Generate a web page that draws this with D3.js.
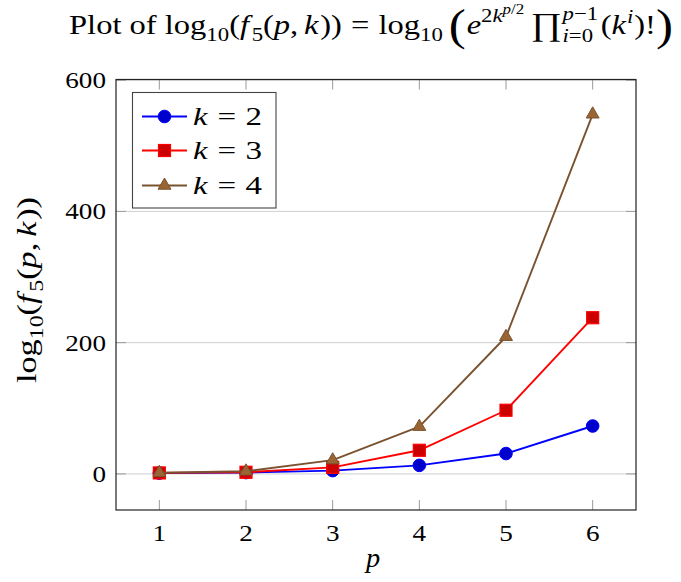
<!DOCTYPE html>
<html><head><meta charset="utf-8">
<script src="https://cdn.jsdelivr.net/npm/d3@7"></script>
<style>html,body{margin:0;padding:0;background:#fff;} svg{display:block;} text{white-space:pre;}</style>
</head><body>
<script>
const pVals = [1, 2, 3, 4, 5, 6];
const seriesK2 = [1.2, 2, 5, 13, 31, 73];
const seriesK3 = [1.5, 2.5, 10, 36, 97, 238];
const seriesK4 = [1.8, 4, 21, 72, 209, 548];
const xTicks = [1, 2, 3, 4, 5, 6];
const yTicks = [0, 200, 400, 600];
const legendLabels = ["2", "3", "4"];

const W = 681, H = 582;
const FONT = "'Liberation Serif', 'Times New Roman', serif";
const NB = "\u00A0";
const svg = d3.select("body").append("svg").attr("width", W).attr("height", H);

const x = d3.scaleLinear().domain([0.5, 6.5]).range([116, 636]);
const y = d3.scaleLinear().domain([-55, 601]).range([510, 79.5]);

// grid
svg.append("g").selectAll("line").data(yTicks).join("line")
  .attr("x1", x.range()[0]).attr("x2", x.range()[1])
  .attr("y1", d => y(d)).attr("y2", d => y(d))
  .attr("stroke", "#cfcfcf").attr("stroke-width", 1);

// ticks (inside, all four sides)
const tl = 10;
const tg = svg.append("g").attr("stroke", "#9a9a9a").attr("stroke-width", 1);
xTicks.forEach(t => {
  tg.append("line").attr("x1", x(t)).attr("x2", x(t)).attr("y1", y.range()[0]).attr("y2", y.range()[0] - tl);
  tg.append("line").attr("x1", x(t)).attr("x2", x(t)).attr("y1", y.range()[1]).attr("y2", y.range()[1] + tl);
});
yTicks.forEach(t => {
  tg.append("line").attr("x1", x.range()[0]).attr("x2", x.range()[0] + tl).attr("y1", y(t)).attr("y2", y(t));
  tg.append("line").attr("x1", x.range()[1]).attr("x2", x.range()[1] - tl).attr("y1", y(t)).attr("y2", y(t));
});

// frame
svg.append("rect").attr("x", x.range()[0]).attr("y", y.range()[1])
  .attr("width", x.range()[1] - x.range()[0]).attr("height", y.range()[0] - y.range()[1])
  .attr("fill", "none").attr("stroke", "#222").attr("stroke-width", 1.2);

function stretchedText(parent, str, px, py, anchor, size, sx) {
  return parent.append("text").text(str)
    .attr("transform", `translate(${px},${py}) scale(${sx},1)`)
    .attr("text-anchor", anchor).attr("font-family", FONT).attr("font-size", size).attr("fill", "#000");
}

// tick labels
xTicks.forEach(t => stretchedText(svg, String(t), x(t), 541, "middle", 23, 1.18));
yTicks.forEach(t => stretchedText(svg, String(t), 106, y(t) + 8, "end", 23, 1.18));

// layout engine for math-like strings
function layout(g, pieces, S) {
  let cx = 0;
  pieces.forEach(p => {
    if (p.stack) {
      let w = 0;
      p.stack.forEach(q => { w = Math.max(w, layoutRow(g, q.parts, S, cx, q.dy)); });
      cx += w + (p.after || 0);
    } else {
      cx += layoutRow(g, [p], S, cx, 0);
    }
  });
  return cx;
}
function layoutRow(g, parts, S, x0, dy0) {
  let cx = x0;
  parts.forEach(p => {
    const size = S * (p.s || 1);
    const t = g.append("text").text(p.t).attr("x", cx).attr("y", (dy0 || 0) + (p.dy || 0) * S)
      .attr("font-family", FONT).attr("font-size", size)
      .attr("font-style", p.it ? "italic" : "normal").attr("fill", "#000");
    cx += t.node().getComputedTextLength() + (p.pad || 0) * S;
  });
  return cx - x0;
}

// title
const S = 28;
const sub = 0.7, subdy = 0.25;
const tinner = svg.append("g");
const titleW = layout(tinner, [
  {t: "Plot" + NB + "of" + NB + "log"}, {t: "10", s: sub, dy: subdy}, {t: "("}, {t: "f", it: 1, pad: 0.08},
  {t: "5", s: sub, dy: subdy}, {t: "("}, {t: "p", it: 1}, {t: "," , pad: 0.18}, {t: "k", it: 1, pad: 0.05}, {t: "))", pad: 0.28},
  {t: "=", pad: 0.28}, {t: "log"}, {t: "10", s: sub, dy: subdy, pad: 0.18}, {t: "(", s: 1.57, dy: 0.23, pad: 0.03},
  {t: "e", it: 1}, {t: "2", s: sub, dy: -0.42}, {t: "k", it: 1, s: sub, dy: -0.42},
  {t: "p", it: 1, s: 0.52, dy: -0.68}, {t: "/2", s: 0.52, dy: -0.68, pad: 0.2},
  {t: "∏", s: 1.15, dy: 0.04, pad: 0.03},
  {stack: [
    {dy: -0.48 * S, parts: [{t: "p", it: 1, s: sub}, {t: "−1", s: sub}]},
    {dy: 0.3 * S, parts: [{t: "i", it: 1, s: sub}, {t: "=0", s: sub}]}
  ], after: 0.08 * S},
  {t: "("}, {t: "k", it: 1, pad: 0.03}, {t: "i", it: 1, s: sub, dy: -0.38, pad: 0.03}, {t: ")!"},
  {t: ")", s: 1.57, dy: 0.23}
], S);
const tx0 = 69, tx1 = 673;
tinner.attr("transform", `translate(${tx0},33.5) scale(${(tx1 - tx0) / titleW},1)`);

// y axis label
const ylin = svg.append("g");
const ylW = layout(ylin, [
  {t: "log"}, {t: "10", s: sub, dy: subdy}, {t: "("}, {t: "f", it: 1, pad: 0.08},
  {t: "5", s: sub, dy: subdy}, {t: "("}, {t: "p", it: 1}, {t: ",", pad: 0.18}, {t: "k", it: 1, pad: 0.05}, {t: "))"}
], 27);
const ylLen = 186;
ylin.attr("transform", `translate(36,${290 + ylLen / 2}) rotate(-90) scale(${ylLen / ylW},1)`);

// x axis label
stretchedText(svg, "p", 373, 567, "middle", 27, 1.05).attr("font-style", "italic");

// series
const series = [
  {vals: seriesK2, stroke: "#0000ff", fill: "#0000cc", mark: "circle"},
  {vals: seriesK3, stroke: "#ff0000", fill: "#cc0000", mark: "square"},
  {vals: seriesK4, stroke: "#7a5230", fill: "#996633", mark: "triangle"}
];
const line = d3.line().x((d, i) => x(pVals[i])).y(d => y(d));
function drawMark(g, type, cx, cy, s) {
  if (type === "circle") {
    g.append("circle").attr("cx", cx).attr("cy", cy).attr("r", 6.3).attr("fill", s.fill).attr("stroke", s.stroke).attr("stroke-width", 1);
  } else if (type === "square") {
    g.append("rect").attr("x", cx - 6).attr("y", cy - 6).attr("width", 12).attr("height", 12).attr("fill", s.fill).attr("stroke", s.stroke).attr("stroke-width", 1.2);
  } else {
    g.append("path").attr("d", d3.symbol(d3.symbolTriangle, 72)()).attr("transform", `translate(${cx},${cy})`)
      .attr("fill", s.fill).attr("stroke", s.stroke).attr("stroke-width", 1);
  }
}
series.forEach(s => {
  const g = svg.append("g");
  g.append("path").datum(s.vals).attr("d", line).attr("fill", "none").attr("stroke", s.stroke).attr("stroke-width", 1.9).attr("stroke-linejoin", "round");
  s.vals.forEach((v, i) => drawMark(g, s.mark, x(pVals[i]), y(v), s));
});

// legend
const lg = svg.append("g");
lg.append("rect").attr("x", 132.5).attr("y", 92.5).attr("width", 143.5).attr("height", 115.5)
  .attr("fill", "#fff").attr("stroke", "#444").attr("stroke-width", 1.1);
const rowY = [116.5, 150.5, 185.5];
series.forEach((s, i) => {
  const yy = rowY[i];
  lg.append("line").attr("x1", 142).attr("x2", 187).attr("y1", yy).attr("y2", yy).attr("stroke", s.stroke).attr("stroke-width", 1.9);
  drawMark(lg, s.mark, 164.5, yy, s);
  const tg2 = lg.append("g");
  const w = layout(tg2, [{t: "k", it: 1, pad: 0.3}, {t: "=", pad: 0.28}, {t: legendLabels[i]}], 26);
  tg2.attr("transform", `translate(193,${yy + 8.5}) scale(${69 / w},1)`);
});
</script>
</body></html>
